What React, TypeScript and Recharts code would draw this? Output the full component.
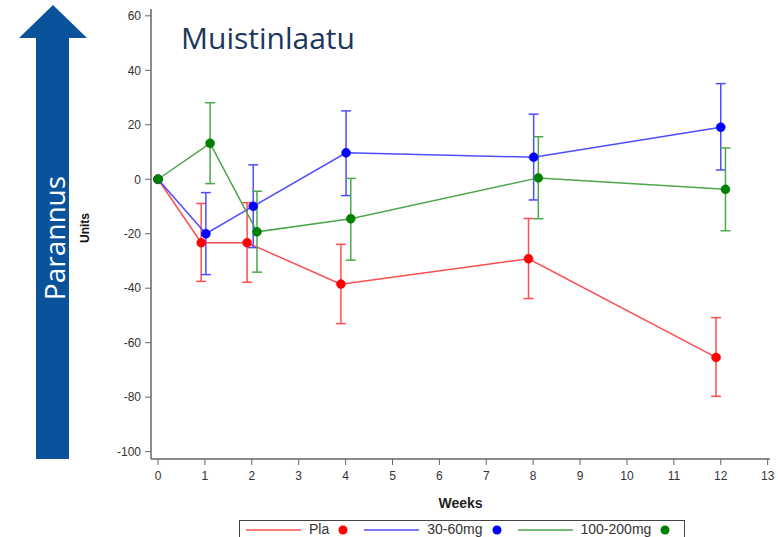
import React from 'react';
import { LineChart, Line, XAxis, YAxis, ErrorBar, Legend } from 'recharts';

// axis ticks
const weekTicks = [0, 1, 2, 3, 4, 5, 6, 7, 8, 9, 10, 11, 12, 13];
const unitTicks = [-100, -80, -60, -40, -20, 0, 20, 40, 60];

// Pla (slightly shifted left in the original plot)
const plaWeeks = [0, 0.92, 1.9, 3.9, 7.9, 11.9];
const plaValues = [0, -23.3, -23.3, -38.5, -29.2, -65.4];
const plaLow = [null, -37.5, -37.8, -53, -43.8, -79.7];
const plaHigh = [null, -8.9, -8.6, -23.9, -14.4, -50.8];

// 30-60mg
const lowDoseWeeks = [0, 1.02, 2.03, 4.01, 8.01, 12.0];
const lowDoseValues = [0, -20.0, -9.9, 9.7, 8.1, 19.1];
const lowDoseLow = [null, -35.0, -25.1, -6.0, -7.6, 3.4];
const lowDoseHigh = [null, -4.9, 5.3, 25.1, 23.9, 35.1];

// 100-200mg (slightly shifted right)
const highDoseWeeks = [0, 1.11, 2.11, 4.11, 8.11, 12.1];
const highDoseValues = [0, 13.2, -19.3, -14.5, 0.5, -3.7];
const highDoseLow = [null, -1.6, -34.1, -29.7, -14.5, -18.9];
const highDoseHigh = [null, 28.1, -4.4, 0.3, 15.6, 11.5];

type Row = { week: number; value: number; err: number[] | null };

const toRows = (
  weeks: number[],
  values: number[],
  low: (number | null)[],
  high: (number | null)[]
): Row[] =>
  weeks.map((w, i) => ({
    week: w,
    value: values[i],
    err: low[i] == null || high[i] == null ? null : [values[i] - (low[i] as number), (high[i] as number) - values[i]],
  }));

const plaData = toRows(plaWeeks, plaValues, plaLow, plaHigh);
const lowDoseData = toRows(lowDoseWeeks, lowDoseValues, lowDoseLow, lowDoseHigh);
const highDoseData = toRows(highDoseWeeks, highDoseValues, highDoseLow, highDoseHigh);

const series = [
  { name: 'Pla', data: plaData, line: '#ff4d4d', dot: '#ff0000' },
  { name: '30-60mg', data: lowDoseData, line: '#4d4dff', dot: '#0000ff' },
  { name: '100-200mg', data: highDoseData, line: '#4da64d', dot: '#008000' },
];

const FONT = '"Liberation Sans", Arial, sans-serif';

function LegendBox() {
  return (
    <div
      style={{
        border: '1px solid #444',
        borderBottom: 'none',
        height: 17,
        boxSizing: 'border-box',
        display: 'flex',
        alignItems: 'flex-start',
        paddingLeft: 6,
        paddingTop: 1,
        fontFamily: FONT,
        fontSize: 14,
        lineHeight: '15px',
        color: '#333',
        background: '#fff',
      }}
    >
      {series.map((s, i) => (
        <div key={s.name} style={{ display: 'flex', alignItems: 'center', height: 15, marginLeft: i === 0 ? 0 : 16 }}>
          <svg width={55} height={10}>
            <line x1={0} y1={5} x2={55} y2={5} stroke={s.line} strokeWidth={1.5} />
          </svg>
          <span style={{ marginLeft: 8 }}>{s.name}</span>
          <svg width={10} height={10} style={{ marginLeft: 9 }}>
            <circle cx={5} cy={5} r={4.5} fill={s.dot} />
          </svg>
        </div>
      ))}
    </div>
  );
}

export default function App() {
  return (
    <div
      style={{
        position: 'absolute',
        left: 0,
        top: 0,
        width: 778,
        height: 537,
        overflow: 'hidden',
        background: '#fff',
      }}
    >
      <LineChart width={778} height={537} margin={{ top: 9, right: 8, left: 91, bottom: 38 }}>
        <XAxis
          dataKey="week"
          type="number"
          domain={[-0.15, 13.05]}
          ticks={weekTicks}
          interval={0}
          allowDataOverflow
          axisLine={{ stroke: '#666', strokeWidth: 1.5 }}
          tickLine={{ stroke: '#666' }}
          tickSize={6}
          tickMargin={6}
          height={40}
          tick={{ fill: '#333', fontSize: 12, fontFamily: FONT }}
          label={{
            value: 'Weeks',
            content: ({ viewBox }: any) => (
              <text
                x={viewBox.x + viewBox.width / 2}
                y={viewBox.y + 49}
                textAnchor="middle"
                fontFamily={FONT}
                fontWeight="bold"
                fontSize={14}
                fill="#222"
              >
                Weeks
              </text>
            ),
          }}
        />
        <YAxis
          type="number"
          domain={[-102.7, 62.5]}
          ticks={unitTicks}
          interval={0}
          allowDataOverflow
          width={60}
          axisLine={{ stroke: '#666', strokeWidth: 1.5 }}
          tickLine={{ stroke: '#666' }}
          tickSize={6}
          tickMargin={4}
          tick={{ fill: '#333', fontSize: 12, fontFamily: FONT }}
          label={{
            value: 'Units',
            content: ({ viewBox }: any) => {
              const x = 89;
              const y = viewBox.y + viewBox.height / 2 - 6;
              return (
                <text
                  x={x}
                  y={y}
                  transform={`rotate(-90, ${x}, ${y})`}
                  textAnchor="middle"
                  fontFamily={FONT}
                  fontWeight="bold"
                  fontSize={12}
                  fill="#111"
                >
                  Units
                </text>
              );
            },
          }}
        />
        {series.map((s) => (
          <Line
            key={s.name}
            name={s.name}
            data={s.data}
            dataKey="value"
            type="linear"
            stroke={s.line}
            strokeWidth={1.5}
            dot={{ r: 4.5, fill: s.dot, stroke: s.dot, strokeWidth: 0.5 }}
            activeDot={false}
            isAnimationActive={false}
          >
            <ErrorBar dataKey="err" width={5} stroke={s.line} strokeWidth={1.5} direction="y" />
          </Line>
        ))}
        <Legend
          layout="horizontal"
          verticalAlign="middle"
          align="center"
          wrapperStyle={{ position: 'absolute', left: 239, top: 520, width: 446, height: 17 }}
          content={() => <LegendBox />}
        />
      </LineChart>
      <svg
        width={778}
        height={537}
        style={{ position: 'absolute', left: 0, top: 0, pointerEvents: 'none' }}
      >
        <polygon
          points="53,5 87,38 69,38 69,459 36,459 36,38 19,38"
          fill="#0a539b"
        />
        <text
          x={65}
          y={238}
          transform="rotate(-90, 65, 238)"
          textAnchor="middle"
          fontFamily='"Open Sans", sans-serif'
          fontSize={28}
          fill="#fff"
        >
          Parannus
        </text>
        <text x={181} y={49} fontFamily='"Open Sans", sans-serif' fontSize={30} fill="#1b365d">
          Muistinlaatu
        </text>
      </svg>
    </div>
  );
}
